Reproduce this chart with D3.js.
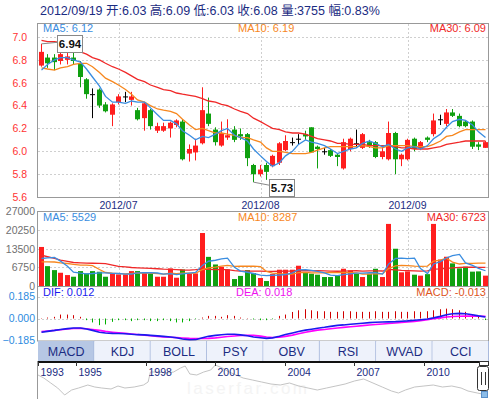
<!DOCTYPE html>
<html>
<head>
<meta charset="utf-8">
<title>K线图</title>
<script src="https://d3js.org/d3.v7.min.js"></script>
<style>
  body { margin: 0; background: #fff; }
  svg { display: block; font-family: Arial, "Liberation Sans", "Noto Sans CJK SC", sans-serif; }
</style>
</head>
<body>
<svg id="chart" width="493" height="399"></svg>
<script>

// trading days shown in the window
var dates = [
  "2012/06/13","2012/06/14","2012/06/15","2012/06/18","2012/06/19","2012/06/20","2012/06/21",
  "2012/06/25","2012/06/26","2012/06/27","2012/06/28","2012/06/29",
  "2012/07/02","2012/07/03","2012/07/04","2012/07/05","2012/07/06","2012/07/09","2012/07/10",
  "2012/07/11","2012/07/12","2012/07/13","2012/07/16","2012/07/17","2012/07/18","2012/07/19",
  "2012/07/20","2012/07/23","2012/07/24","2012/07/25","2012/07/26","2012/07/27","2012/07/30","2012/07/31",
  "2012/08/01","2012/08/02","2012/08/03","2012/08/06","2012/08/07","2012/08/08","2012/08/09",
  "2012/08/10","2012/08/13","2012/08/14","2012/08/15","2012/08/16","2012/08/17","2012/08/20",
  "2012/08/21","2012/08/22","2012/08/23","2012/08/24","2012/08/27","2012/08/28","2012/08/29",
  "2012/08/30","2012/08/31",
  "2012/09/03","2012/09/04","2012/09/05","2012/09/06","2012/09/07","2012/09/10","2012/09/11",
  "2012/09/12","2012/09/13","2012/09/14","2012/09/17","2012/09/18","2012/09/19"
];

var open = [6.75,6.82,6.82,6.79,6.80,6.82,6.77,6.63,6.50,6.54, 6.41,6.32,6.43,6.48,6.45,6.36,6.29,6.36,6.18,6.18,
            6.20,6.23,6.26,5.98,5.99,6.07,6.33,6.19,6.05,6.12, 6.19,6.15,6.15,5.88,5.80,5.88,5.87,5.90,6.01,6.08,
            6.11,6.15,6.21,6.04,6.00,6.01,5.97,5.85,6.02,6.07, 6.03,6.08,6.08,5.95,5.93,6.16,5.93,5.93,6.11,6.02,
            6.12,6.15,6.28,6.24,6.34,6.31,6.26,6.26,6.06,6.03];
var high = [6.94,6.85,6.85,6.88,6.86,6.86,6.79,6.64,6.55,6.55, 6.43,6.42,6.50,6.52,6.52,6.38,6.43,6.37,6.25,6.25,
            6.26,6.28,6.28,6.06,6.11,6.56,6.47,6.21,6.26,6.28, 6.22,6.20,6.16,5.89,5.88,5.90,5.97,6.08,6.14,6.12,
            6.15,6.18,6.21,6.05,6.03,6.02,5.98,6.11,6.12,6.19, 6.16,6.10,6.09,6.04,6.26,6.17,5.98,6.11,6.12,6.09,
            6.13,6.33,6.32,6.37,6.37,6.33,6.27,6.27,6.08,6.09];
var low  = [6.74,6.73,6.71,6.76,6.76,6.76,6.56,6.46,6.29,6.38, 6.34,6.22,6.41,6.43,6.40,6.27,6.18,6.19,6.16,6.17,
            6.12,6.21,5.92,5.91,5.92,6.06,6.22,6.05,6.04,6.10, 6.08,6.10,5.87,5.73,5.78,5.75,5.86,5.88,6.00,6.05,
            6.06,6.10,5.99,5.85,5.97,5.95,5.87,5.84,6.00,6.03, 6.02,6.03,5.94,5.93,5.92,5.80,5.87,5.92,6.00,6.01,
            6.08,6.13,6.23,6.22,6.30,6.21,6.21,6.02,6.01,6.03];
var close = [6.87,6.77,6.78,6.85,6.83,6.79,6.65,6.50,6.50,6.40, 6.35,6.41,6.48,6.48,6.48,6.28,6.42,6.22,6.22,6.22,
             6.25,6.27,5.93,6.02,6.05,6.36,6.24,6.08,6.16,6.14, 6.10,6.13,5.94,5.80,5.84,5.82,5.96,6.07,6.09,6.08,
             6.11,6.13,5.99,6.02,6.00,5.96,5.95,6.08,6.11,6.07, 6.15,6.05,5.95,6.00,6.16,5.93,5.97,6.10,6.02,6.08,
             6.10,6.27,6.28,6.34,6.31,6.22,6.22,6.04,6.04,6.08];

var ma5  = [6.71,6.76,6.80,6.82,6.82,6.80,6.78,6.72,6.65,6.57, 6.48,6.43,6.43,6.42,6.44,6.43,6.43,6.38,6.32,6.27,
            6.27,6.24,6.18,6.14,6.10,6.13,6.12,6.15,6.18,6.20, 6.14,6.12,6.09,6.02,5.96,5.91,5.87,5.90,5.96,6.00,
            6.06,6.10,6.08,6.07,6.05,6.02,5.98,6.00,6.02,6.03, 6.07,6.09,6.07,6.04,6.06,6.02,6.00,6.03,6.04,6.02,
            6.05,6.11,6.15,6.21,6.26,6.28,6.27,6.23,6.17,6.12];
var ma10 = [6.73,6.72,6.71,6.73,6.74,6.76,6.77,6.77,6.74,6.69, 6.64,6.61,6.58,6.54,6.50,6.45,6.43,6.40,6.37,6.36,
            6.35,6.33,6.28,6.23,6.19,6.20,6.18,6.16,6.16,6.15, 6.14,6.12,6.12,6.10,6.08,6.03,6.00,6.00,5.99,5.98,
            5.98,5.98,5.99,6.01,6.03,6.04,6.04,6.04,6.04,6.04, 6.05,6.04,6.03,6.03,6.05,6.05,6.05,6.05,6.04,6.04,
            6.04,6.06,6.09,6.13,6.14,6.17,6.19,6.19,6.19,6.19];
var ma30 = [6.97,6.96,6.96,6.95,6.93,6.90,6.87,6.85,6.82,6.80, 6.77,6.74,6.72,6.69,6.66,6.63,6.61,6.58,6.56,6.54,
            6.53,6.51,6.50,6.49,6.48,6.46,6.44,6.43,6.41,6.40, 6.37,6.35,6.33,6.29,6.26,6.23,6.20,6.19,6.17,6.16,
            6.16,6.15,6.13,6.11,6.10,6.09,6.07,6.07,6.06,6.06, 6.06,6.05,6.05,6.05,6.05,6.04,6.03,6.03,6.02,6.02,
            6.02,6.03,6.04,6.06,6.07,6.08,6.09,6.09,6.09,6.09];

var volume = [14150,7200,5760,4800,3960,3360,5400,4560,5400,5160, 3360,4560,4200,4200,5400,5400,4800,4560,3360,3360,
              6360,3000,6000,4560,4560,19200,10560,7800,6960,6000, 2520,3660,5760,4700,2900,1800,4320,5900,5900,5900,
              7350,4700,4450,4100,3250,3250,3750,6250,5650,4450, 3250,4450,6250,3250,22500,13500,4950,5300,4100,3750,
              4300,22500,9600,10600,8200,6400,7000,5200,5300,3755];
// doji days whose volume bar is drawn red
var dojiUp = [13, 39, 40, 62];

var volMa5  = [9960,10200,10320,9000,7174,5016,4656,4416,4536,4776, 4776,4608,4536,4296,4344,4752,4800,4872,4704,4296,
               4488,4128,4416,4656,4896,7464,8976,9336,9816,10104, 6768,5388,4980,4528,3908,3764,3896,3924,4164,4764,
               5874,5950,5660,5300,4770,3950,3760,4120,4430,4670, 4670,4810,4810,4330,7940,9990,10090,9900,10070,6320,
               4480,7990,8850,10150,11040,11460,8360,7480,6420,5529];
var volMa10 = [8760,8760,8700,8400,8160,7800,7560,7560,7400,5975, 4896,4632,4476,4416,4560,4764,4704,4704,4500,4320,
               4620,4464,4644,4680,4596,5976,6552,6876,7236,7500, 7116,7182,7158,7172,7006,5266,4642,4452,4346,4336,
               4819,4923,4792,4732,4767,4912,4855,4890,4865,4720, 4310,4285,4465,4380,6305,7330,7450,7355,7200,7130,
               7235,9040,9375,10110,8680,7970,8175,8165,8285,8287];
var volMa30 = [11160,10600,10000,9400,8900,8520,8400,8300,8250,8200, 8100,7600,7100,6900,6700,6600,6500,6400,6250,6100,
               6000,5900,5800,5760,5900,6150,6050,5980,5950,5932, 5544,5426,5426,5423,5388,5336,5300,5344,5361,5386,
               5519,5523,5532,5528,5457,5385,5350,5406,5483,5519, 5415,5464,5472,5428,6026,5836,5649,5566,5471,5396,
               5455,6083,6211,6408,6585,6738,6827,6804,6784,6723];

var dif = [-0.115,-0.108,-0.100,-0.092,-0.085,-0.080,-0.080,-0.088,-0.100,-0.115, -0.122,-0.125,-0.126,-0.128,-0.132,-0.136,-0.138,-0.142,-0.146,-0.150,
           -0.155,-0.162,-0.172,-0.180,-0.178,-0.162,-0.150,-0.142,-0.136,-0.132, -0.133,-0.138,-0.145,-0.155,-0.162,-0.167,-0.163,-0.150,-0.135,-0.122,
           -0.110,-0.098,-0.090,-0.082,-0.074,-0.066,-0.058,-0.054,-0.048,-0.044, -0.040,-0.035,-0.032,-0.030,-0.028,-0.026,-0.023,-0.020,-0.015,-0.010,
           -0.004,0.005,0.018,0.032,0.040,0.043,0.040,0.032,0.022,0.012];
var dea = [-0.110,-0.105,-0.100,-0.094,-0.088,-0.084,-0.083,-0.086,-0.092,-0.100, -0.108,-0.115,-0.120,-0.125,-0.130,-0.135,-0.140,-0.145,-0.150,-0.155,
           -0.158,-0.161,-0.164,-0.167,-0.168,-0.168,-0.167,-0.163,-0.158,-0.152, -0.147,-0.143,-0.141,-0.142,-0.148,-0.155,-0.160,-0.158,-0.150,-0.140,
           -0.128,-0.116,-0.106,-0.098,-0.092,-0.086,-0.080,-0.075,-0.070,-0.065, -0.060,-0.055,-0.050,-0.046,-0.042,-0.038,-0.034,-0.030,-0.025,-0.018,
           -0.010,-0.002,0.005,0.012,0.017,0.019,0.020,0.020,0.019,0.018];
var macd = [0.003,0.008,0.014,0.033,0.033,0.028,0.014,-0.014,-0.033,-0.056, -0.050,-0.028,-0.014,-0.014,-0.022,-0.014,-0.014,-0.022,-0.022,-0.014,
            -0.022,-0.033,-0.033,-0.022,-0.005,0.008,0.022,0.022,0.014,0.028, 0.022,0.008,0.003,-0.008,-0.014,-0.014,-0.006,0.022,0.033,0.055,
            0.069,0.078,0.069,0.061,0.061,0.056,0.056,0.061,0.061,0.056, 0.056,0.056,0.061,0.056,0.056,0.061,0.056,0.056,0.061,0.056,
            0.061,0.069,0.078,0.083,0.078,0.069,0.056,0.033,0.014,-0.013];

var priceTicks = [5.6, 5.8, 6.0, 6.2, 6.4, 6.6, 6.8, 7.0];
var volTicks = [0, 6750, 13500, 20250, 27000];
var macdTicks = [-0.185, 0, 0.185];
var lastRange = "0.83%";

var tabs = ["MACD", "KDJ", "BOLL", "PSY", "OBV", "RSI", "WVAD", "CCI"];

// long history for the navigator strip (decimal year, price)
var navYear = [1993.35,1993.6,1993.9,1994.2,1994.5,1994.8,1995.1,1995.5,1995.8,1996.1,
               1996.5,1996.8,1997.1,1997.5,1997.9,1998.1,1998.2,1998.5,1998.9,1999.2,
               1999.5,1999.7,1999.9,2000.2,2000.5,2000.8,2001.0,2001.3,2001.6,2001.9,
               2002.2,2002.6,2003.0,2003.4,2003.8,2004.2,2004.6,2005.0,2005.4,2005.8,
               2006.2,2006.6,2007.0,2007.4,2007.8,2008.2,2008.6,2008.9,2009.2,2009.6,
               2010.0,2010.4,2010.8,2011.2,2011.6,2011.9,2012.3,2012.72];
var navClose = [6.25,5.5,4.25,3.0,1.25,2.5,3.0,3.75,3.25,3.0,
                2.75,3.5,3.0,3.25,3.75,4.5,7.0,7.0,6.75,7.0,
                8.0,8.5,6.5,6.25,7.0,7.5,8.75,8.0,7.0,6.25,
                5.5,5.0,4.5,4.0,3.75,4.25,3.5,3.0,2.5,3.0,
                3.5,4.0,4.75,5.25,4.25,3.25,2.25,1.75,2.5,3.25,
                3.5,3.75,3.25,3.5,3.0,2.25,1.75,1.25];
var navTicks = [1995, 1998, 2001, 2004, 2007, 2010];

var RED = "#ff1e1e", GREEN = "#10a010", NAVY = "#1b2c82";
var GRID = "#cfcfcf", BORDER = "#999";

var svg = d3.select("#chart");

var x = d3.scaleBand().domain(d3.range(dates.length)).range([38, 488])
    .paddingInner(0.3).paddingOuter(0.15);
function bx(i) { return Math.round(x(i)); }
function cx(i) { return bx(i) + 2.5; }

var yP = d3.scaleLinear().domain([5.6, 7.0]).range([197, 37]);
var yV = d3.scaleLinear().domain([0, 27000]).range([286, 211.5]);
var yM = d3.scaleLinear().domain([-0.185, 0.185]).range([340.5, 296.5]);

// title
var n = dates.length - 1;
svg.append("text")
  .attr("x", 40).attr("y", 14.5)
  .attr("fill", NAVY).style("font-size", "12.5px")
  .text(dates[n] + " 开:" + open[n].toFixed(2) + " 高:" + high[n].toFixed(2) +
        " 低:" + low[n].toFixed(2) + " 收:" + close[n].toFixed(2) +
        " 量:" + volume[n] + " 幅:" + lastRange);

// month boundaries
var monthStarts = [];
dates.forEach(function (d, i) {
  if (i > 0 && d.slice(5, 7) != dates[i - 1].slice(5, 7)) monthStarts.push(i);
});

// ---------- grids ----------
var grid = svg.append("g").attr("stroke", GRID).attr("stroke-dasharray", "2,2");
priceTicks.slice(1).forEach(function (t) {
  var y = Math.round(yP(t)) + 0.5;
  grid.append("line").attr("x1", 38).attr("x2", 488).attr("y1", y).attr("y2", y);
});
volTicks.slice(1, -1).forEach(function (t) {
  var y = Math.round(yV(t)) + 0.5;
  grid.append("line").attr("x1", 38).attr("x2", 488).attr("y1", y).attr("y2", y);
});
[0.185, 0].forEach(function (t) {
  var y = Math.round(yM(t)) + 0.5;
  grid.append("line").attr("x1", 38).attr("x2", 488).attr("y1", y).attr("y2", y);
});
monthStarts.forEach(function (i) {
  var xx = Math.round(cx(i)) + 0.5;
  grid.append("line").attr("x1", xx).attr("x2", xx).attr("y1", 24).attr("y2", 197);
  grid.append("line").attr("x1", xx).attr("x2", xx).attr("y1", 212).attr("y2", 286);
});

// ---------- axes ----------
function styleAxis(g, color) {
  g.select(".domain").remove();
  g.selectAll("text").attr("fill", color).style("font-size", "10.5px")
    .style("font-family", "Arial, 'Liberation Sans', sans-serif");
}
svg.append("g").attr("transform", "translate(27,0)")
  .call(d3.axisLeft(yP).tickValues(priceTicks).tickSize(0).tickPadding(0).tickFormat(d3.format(".1f")))
  .call(styleAxis, "#ff3333");
svg.append("g").attr("transform", "translate(35,0)")
  .call(d3.axisLeft(yV).tickValues(volTicks).tickSize(0).tickPadding(0).tickFormat(d3.format("d")))
  .call(styleAxis, "#707070");
svg.append("g").attr("transform", "translate(35,0)")
  .call(d3.axisLeft(yM).tickValues(macdTicks).tickSize(0).tickPadding(0).tickFormat(d3.format(".3f")))
  .call(styleAxis, "#2b8be0");

// month labels
svg.append("g").selectAll("text").data(monthStarts).enter().append("text")
  .attr("x", function (i) { return cx(i); }).attr("y", 208.5)
  .attr("text-anchor", "middle").attr("fill", NAVY).style("font-size", "10.5px")
  .text(function (i) { return dates[i].slice(0, 7); });

// ---------- candles ----------
var candles = svg.append("g").selectAll("g").data(dates).enter().append("g");
function candleColor(i) {
  if (close[i] > open[i]) return RED;
  if (close[i] < open[i]) return GREEN;
  return "#000";
}
candles.append("line")
  .attr("x1", function (d, i) { return cx(i); }).attr("x2", function (d, i) { return cx(i); })
  .attr("y1", function (d, i) { return yP(high[i]); }).attr("y2", function (d, i) { return yP(low[i]); })
  .attr("stroke", function (d, i) { return candleColor(i); });
candles.append("rect")
  .attr("x", function (d, i) { return bx(i); })
  .attr("width", 5)
  .attr("y", function (d, i) { return yP(Math.max(open[i], close[i])); })
  .attr("height", function (d, i) { return Math.max(1, Math.abs(yP(open[i]) - yP(close[i]))); })
  .attr("fill", function (d, i) { return candleColor(i); });

// price moving averages
function drawLine(g, values, y, color, w) {
  g.append("path").datum(values)
    .attr("fill", "none").attr("stroke", color).attr("stroke-width", w)
    .attr("d", d3.line().x(function (d, i) { return cx(i); }).y(function (d) { return y(d); }));
}
var maG = svg.append("g");
drawLine(maG, ma30, yP, "#f02828", 1.3);
drawLine(maG, ma10, yP, "#f7871e", 1.3);
drawLine(maG, ma5, yP, "#3a8de0", 1.3);

// max / min labels
function marker(i, price, dyBox, dyLine) {
  var px = cx(i), py = yP(price);
  var g = svg.append("g");
  g.append("line").attr("x1", px).attr("y1", py).attr("x2", px + 15.5).attr("y2", py + dyLine)
    .attr("stroke", "#888");
  g.append("rect").attr("x", Math.round(px + 15) + 0.5).attr("y", Math.round(py + dyBox) + 0.5)
    .attr("width", 25).attr("height", 17).attr("fill", "#fff").attr("stroke", "#888");
  g.append("text").attr("x", Math.round(px + 15) + 13).attr("y", Math.round(py + dyBox) + 13)
    .attr("text-anchor", "middle").style("font-size", "11.5px").style("font-weight", "bold")
    .attr("fill", "#111").text(price.toFixed(2));
}
var iMax = d3.maxIndex(high), iMin = d3.minIndex(low);
marker(iMax, high[iMax], -9, -1.5);
marker(iMin, low[iMin], -3, 3);

// ---------- volume ----------
function volUp(i) {
  if (close[i] != open[i]) return close[i] > open[i];
  return dojiUp.indexOf(i) >= 0;
}
svg.append("g").selectAll("rect").data(volume).enter().append("rect")
  .attr("x", function (d, i) { return bx(i); }).attr("width", 5)
  .attr("y", function (d) { return yV(d); })
  .attr("height", function (d) { return 286 - yV(d); })
  .attr("fill", function (d, i) { return volUp(i) ? RED : GREEN; });
var vmaG = svg.append("g");
drawLine(vmaG, volMa30, yV, "#f02828", 1.3);
drawLine(vmaG, volMa10, yV, "#f7871e", 1.3);
drawLine(vmaG, volMa5, yV, "#3a8de0", 1.3);

// ---------- MACD ----------
svg.append("g").selectAll("line").data(macd).enter().append("line")
  .attr("x1", function (d, i) { return cx(i); }).attr("x2", function (d, i) { return cx(i); })
  .attr("y1", yM(0)).attr("y2", function (d) { return yM(d); })
  .attr("stroke", function (d) { return d >= 0 ? "#d00000" : "#00b000"; });
var mG = svg.append("g");
drawLine(mG, dea, yM, "#ff00ff", 1.6);
drawLine(mG, dif, yM, "#1a1aee", 1.6);

// ---------- panel borders ----------
var frame = svg.append("g").attr("fill", "none").attr("stroke", BORDER);
frame.append("rect").attr("x", 37.5).attr("y", 23.5).attr("width", 451).attr("height", 174);
frame.append("rect").attr("x", 37.5).attr("y", 211.5).attr("width", 451).attr("height", 75);
frame.append("rect").attr("x", 37.5).attr("y", 286.5).attr("width", 451).attr("height", 54.5);

// ---------- legends ----------
function legend(xx, y, txt, color, anchor) {
  svg.append("text").attr("x", xx).attr("y", y).attr("fill", color)
    .attr("text-anchor", anchor || "start").style("font-size", "11px").text(txt);
}
legend(43, 32, "MA5: " + ma5[n].toFixed(2), "#3a8de0");
legend(238, 32, "MA10: " + ma10[n].toFixed(2), "#f7871e");
legend(486, 32, "MA30: " + ma30[n].toFixed(2), "#f02828", "end");
legend(43, 221, "MA5: " + volMa5[n], "#3a8de0");
legend(238, 221, "MA10: " + volMa10[n], "#f7871e");
legend(486, 221, "MA30: " + volMa30[n], "#f02828", "end");
legend(43, 296, "DIF: " + dif[n].toFixed(3), "#1a1aee");
legend(236, 296, "DEA: " + dea[n].toFixed(3), "#ee10ee");
legend(486, 296, "MACD: " + macd[n].toFixed(3), "#dd5522", "end");

// ---------- tabs ----------
var tabW = (489 - 38) / tabs.length;
var tabG = svg.append("g").selectAll("g").data(tabs).enter().append("g")
  .attr("transform", function (d, k) { return "translate(" + (38 + k * tabW) + ",341)"; });
tabG.append("rect").attr("width", tabW).attr("height", 20)
  .attr("fill", function (d, k) { return k == 0 ? "#b6c7e4" : "#eef2fb"; });
tabG.append("line").attr("x1", tabW - 0.5).attr("x2", tabW - 0.5).attr("y1", 0).attr("y2", 20)
  .attr("stroke", "#a9b9dc");
tabG.append("text").attr("x", tabW / 2).attr("y", 15)
  .attr("text-anchor", "middle").attr("fill", NAVY).style("font-size", "12.5px")
  .text(function (d) { return d; });

// ---------- navigator ----------
var xN = d3.scaleLinear().domain([navYear[0], navYear[navYear.length - 1]]).range([38, 487]);
var yN = d3.scaleLinear().domain([0, 10]).range([400, 360]);
svg.append("text").attr("x", 187).attr("y", 394)
  .attr("textLength", 120).attr("lengthAdjust", "spacing")
  .attr("fill", "#f4f4f4").style("font-size", "17px").text("laserfar.com");
svg.append("path").datum(navClose)
  .attr("fill", "none").attr("stroke", "#c4c4c4").attr("stroke-width", 1)
  .attr("d", d3.line().x(function (d, i) { return xN(navYear[i]); }).y(function (d) { return yN(d); }));
svg.append("line").attr("x1", 37.5).attr("x2", 37.5).attr("y1", 361).attr("y2", 399).attr("stroke", BORDER);
svg.append("rect").attr("x", 38).attr("y", 361).attr("width", 442).attr("height", 2).attr("fill", "#111");

var navLabels = [{year: navYear[0], label: "1993"}].concat(navTicks.map(function (t) { return {year: t, label: String(t)}; }));
var navG = svg.append("g").selectAll("g").data(navLabels).enter().append("g")
  .attr("transform", function (d) { return "translate(" + (Math.round(xN(d.year)) + 0.5) + ",0)"; });
navG.append("line").attr("y1", 362).attr("y2", 366).attr("stroke", "#333");
navG.append("text").attr("x", 2).attr("y", 376).attr("fill", NAVY).style("font-size", "10.5px")
  .text(function (d) { return d.label; });

// range handle
var h = svg.append("g");
h.append("rect").attr("x", 479.5).attr("y", 361.5).attr("width", 9).attr("height", 4).attr("fill", "#fff").attr("stroke", "#333");
h.append("rect").attr("x", 477.5).attr("y", 366.5).attr("width", 11).attr("height", 24).attr("rx", 2)
  .attr("fill", "#fff").attr("stroke", "#333");
h.append("line").attr("x1", 481.5).attr("x2", 481.5).attr("y1", 372).attr("y2", 385).attr("stroke", "#333");
h.append("line").attr("x1", 485.5).attr("x2", 485.5).attr("y1", 372).attr("y2", 385).attr("stroke", "#333");
h.append("rect").attr("x", 481.5).attr("y", 391.5).attr("width", 6).attr("height", 6).attr("fill", "#8bbce8").attr("stroke", "#5a8fc8");
</script>
</body>
</html>
